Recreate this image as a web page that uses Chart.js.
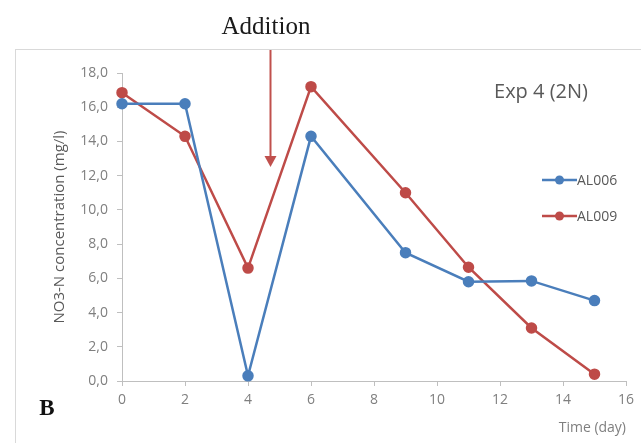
<!DOCTYPE html>
<html>
<head>
<meta charset="utf-8">
<script src="https://cdn.jsdelivr.net/npm/chart.js@4.4.1/dist/chart.umd.min.js"></script>
<style>
  html, body { margin: 0; padding: 0; background: #fff; }
  #wrap { width: 641px; height: 443px; position: relative; }
</style>
</head>
<body>
<div id="wrap"><canvas id="nitrateChart" width="641" height="443"></canvas></div>
<script>
// Data (Exp 4, 2N)
const days = [0, 2, 4, 6, 9, 11, 13, 15];
const al006 = [16.2, 16.2, 0.3, 14.3, 7.5, 5.8, 5.85, 4.7];
const al009 = [16.85, 14.3, 6.6, 17.2, 11.0, 6.65, 3.1, 0.4];
const seriesNames = ['AL006', 'AL009'];
const yTickLabels = ['0,0', '2,0', '4,0', '6,0', '8,0', '10,0', '12,0', '14,0', '16,0', '18,0'];
const xTickLabels = ['0', '2', '4', '6', '8', '10', '12', '14', '16'];
const additionDay = 4.7;

const blue = '#4a7ebb';
const red = '#be4b48';
const axisGrey = '#bfbfbf';
const textGrey = '#7f7f7f';

// extra texts, frame, legend and the "Addition" arrow
const decorations = {
  id: 'decorations',
  beforeDraw(chart) {
    const ctx = chart.ctx;
    ctx.save();
    ctx.fillStyle = '#fff';
    ctx.fillRect(0, 0, chart.width, chart.height);
    ctx.strokeStyle = '#d9d9d9';
    ctx.lineWidth = 1;
    ctx.strokeRect(15.5, 49.5, 700, 500);
    ctx.restore();
  },
  afterDraw(chart) {
    const ctx = chart.ctx;
    const xs = chart.scales.x;
    ctx.save();

    // Addition label + arrow
    ctx.fillStyle = '#1a1a1a';
    ctx.font = '25px "Liberation Serif", serif';
    ctx.textAlign = 'center';
    ctx.textBaseline = 'alphabetic';
    ctx.fillText('Addition', 266, 34);

    const ax = Math.round(xs.getPixelForValue(additionDay)) + 0.5;
    ctx.strokeStyle = '#c0504d';
    ctx.fillStyle = '#c0504d';
    ctx.lineWidth = 2;
    ctx.beginPath();
    ctx.moveTo(ax, 50);
    ctx.lineTo(ax, 158);
    ctx.stroke();
    ctx.beginPath();
    ctx.moveTo(ax - 6, 156);
    ctx.lineTo(ax + 6, 156);
    ctx.lineTo(ax, 167);
    ctx.closePath();
    ctx.fill();

    // panel letter
    ctx.fillStyle = '#111';
    ctx.font = 'bold 23px "Liberation Serif", serif';
    ctx.fillText('B', 47, 415);

    // inner title
    ctx.fillStyle = '#595959';
    ctx.font = '20px "Open Sans", sans-serif';
    ctx.textAlign = 'center';
    ctx.textBaseline = 'middle';
    ctx.fillText('Exp 4 (2N)', 541, 92);

    // legend
    const legendY = [180, 216];
    ctx.font = '14px "Open Sans", sans-serif';
    ctx.textAlign = 'left';
    chart.data.datasets.forEach((ds, i) => {
      const y = legendY[i];
      ctx.strokeStyle = ds.borderColor;
      ctx.fillStyle = ds.borderColor;
      ctx.lineWidth = 2.5;
      ctx.beginPath();
      ctx.moveTo(542, y);
      ctx.lineTo(577, y);
      ctx.stroke();
      ctx.beginPath();
      ctx.arc(559.5, y, 4.5, 0, Math.PI * 2);
      ctx.fill();
      ctx.fillStyle = '#595959';
      ctx.fillText(ds.label, 577, y + 1);
    });
    ctx.restore();
  }
};

const toPoints = (xv, yv) => xv.map((x, i) => ({ x: x, y: yv[i] }));

new Chart(document.getElementById('nitrateChart').getContext('2d'), {
  type: 'line',
  data: {
    datasets: [
      {
        label: seriesNames[0],
        data: toPoints(days, al006),
        borderColor: blue,
        backgroundColor: blue,
        borderWidth: 2.5,
        pointRadius: 4.5,
        pointBackgroundColor: blue,
        pointBorderColor: blue,
        tension: 0,
        clip: false
      },
      {
        label: seriesNames[1],
        data: toPoints(days, al009),
        borderColor: red,
        backgroundColor: red,
        borderWidth: 2.5,
        pointRadius: 4.5,
        pointBackgroundColor: red,
        pointBorderColor: red,
        tension: 0,
        clip: false
      }
    ]
  },
  options: {
    responsive: false,
    animation: false,
    layout: { padding: { left: 0, top: 73, right: 15, bottom: 0 } },
    plugins: {
      legend: { display: false },
      tooltip: { enabled: false }
    },
    scales: {
      x: {
        type: 'linear',
        min: 0,
        max: 16,
        afterFit: s => { s.height = 62; },
        border: { color: axisGrey, width: 1 },
        grid: { drawOnChartArea: false, color: axisGrey, tickLength: 5 },
        ticks: {
          stepSize: 2,
          padding: 6,
          color: textGrey,
          font: { family: '"Open Sans", sans-serif', size: 14 },
          callback: (v, i) => xTickLabels[i]
        },
        title: {
          display: true,
          text: 'Time (day)',
          align: 'end',
          color: textGrey,
          font: { family: '"Open Sans", sans-serif', size: 14 },
          padding: { top: 0, bottom: 7 }
        }
      },
      y: {
        min: 0,
        max: 18,
        afterFit: s => { s.width = 122; },
        border: { color: axisGrey, width: 1 },
        grid: { drawOnChartArea: false, color: axisGrey, tickLength: 5 },
        ticks: {
          stepSize: 2,
          padding: 9,
          color: textGrey,
          font: { family: '"Open Sans", sans-serif', size: 14 },
          callback: (v, i) => yTickLabels[i]
        },
        title: {
          display: true,
          text: 'NO3-N concentration (mg/l)',
          color: '#595959',
          font: { family: '"Open Sans", sans-serif', size: 15 },
          padding: { top: 51, bottom: 0 }
        }
      }
    }
  },
  plugins: [decorations]
});
</script>
</body>
</html>
